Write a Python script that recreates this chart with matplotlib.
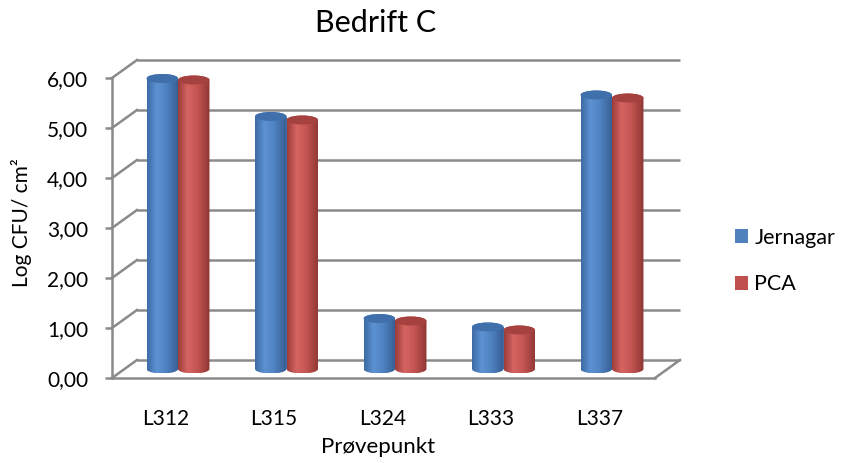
import numpy as np
import matplotlib
matplotlib.use("Agg")
import matplotlib.pyplot as plt
from matplotlib.path import Path
from matplotlib.patches import Ellipse
from matplotlib.colors import LinearSegmentedColormap

# ---------------- data ----------------
categories = ["L312", "L315", "L324", "L333", "L337"]
jernagar = [5.81, 5.05, 1.01, 0.84, 5.48]
pca = [5.78, 4.98, 0.96, 0.78, 5.42]
series_names = ["Jernagar", "PCA"]
yticks = [0, 1, 2, 3, 4, 5, 6]
title = "Bedrift C"
xlabel = "Prøvepunkt"
ylabel = "Log CFU/ cm²"

# ---------------- style ----------------
plt.rcParams['font.family'] = ['Lato', 'DejaVu Sans']
FS = 15          # digit-heavy labels
FS2 = 16         # word labels
W, H = 842, 463
fig = plt.figure(figsize=(W / 100, H / 100), dpi=100)

# pixel mapping for the axes (category unit = 108.5 px, value unit = 50 px)
x0px, xunit = 178.0, 108.5
y0px, yunit = 369.0, 50.0
left_px, right_px, top_px, bot_px = 90, 700, 45, 400
ax = fig.add_axes([left_px / W, 1 - bot_px / H, (right_px - left_px) / W, (bot_px - top_px) / H])
xlim = ((left_px - x0px) / xunit, (right_px - x0px) / xunit)
ylim = ((y0px - bot_px) / yunit, (y0px - top_px) / yunit)

dxo = 12.5 / xunit      # depth offset (x) from middle plane
dyo = 9.0 / yunit       # depth offset (y) from middle plane
back_left = (137 - x0px) / xunit
back_right = (680 - x0px) / xunit
front_left = back_left - 2 * dxo
front_right = back_right - 2 * dxo

grid_c = '#8a8a8a'
glw = 1.8

# back wall gridlines and side wall diagonals
for v in yticks:
    ax.plot([back_left, back_right], [v + dyo, v + dyo], color=grid_c, lw=glw, zorder=1,
            solid_capstyle='butt')
    ax.plot([front_left, back_left], [v - dyo, v + dyo], color=grid_c, lw=glw, zorder=1)
# floor right edge
ax.plot([front_right, back_right], [-dyo, dyo], color=grid_c, lw=glw, zorder=1)

# spines: front vertical axis and front floor edge
for s in ['top', 'right']:
    ax.spines[s].set_visible(False)
ax.spines['left'].set_position(('data', front_left))
ax.spines['left'].set_bounds(-dyo, yticks[-1] - dyo)
ax.spines['bottom'].set_position(('data', -dyo))
ax.spines['bottom'].set_bounds(front_left, front_right)
for s in ['left', 'bottom']:
    ax.spines[s].set_color(grid_c)
    ax.spines[s].set_linewidth(glw)

ax.set_yticks([v - dyo for v in yticks])
ax.set_yticklabels([f"{v:.2f}".replace('.', ',') for v in yticks], fontsize=FS)
ax.tick_params(axis='y', direction='out', length=5, width=glw, color=grid_c, pad=12)
idx = np.arange(len(categories))
ax.set_xticks(idx - dxo)
ax.set_xticklabels(categories, fontsize=FS)
ax.tick_params(axis='x', length=0, pad=22)

# ---------------- cylinders ----------------
bw = 0.29
b = 4.5 / yunit
blue_cmap = LinearSegmentedColormap.from_list('b', [(0, '#3d6ba5'), (0.3, '#5d92d3'),
                                                    (0.6, '#4f83c2'), (1, '#365d92')])
red_cmap = LinearSegmentedColormap.from_list('r', [(0, '#9c3d3a'), (0.3, '#d66562'),
                                                   (0.6, '#c45552'), (1, '#8f3734')])
specs = [(jernagar, -bw / 2, '#4F81BD', blue_cmap, '#4070ac', series_names[0]),
         (pca, bw / 2, '#C0504D', red_cmap, '#a5423f', series_names[1])]
grad = np.linspace(0, 1, 64).reshape(1, -1)
t_low = np.linspace(np.pi, 2 * np.pi, 40)
t_up = np.linspace(0, np.pi, 40)

handles = []
for vals, off, base, cmap, topc, name in specs:
    bars = ax.bar(idx + off, vals, width=bw, color=base, zorder=2, label=name)
    handles.append(bars)
    for cx, v in zip(idx + off, vals):
        a = bw / 2
        xs = np.concatenate([cx + a * np.cos(t_low), cx + a * np.cos(t_up)])
        ys = np.concatenate([b * np.sin(t_low), v + b * np.sin(t_up)])
        path = Path(np.column_stack([xs, ys]), closed=False)
        im = ax.imshow(grad, cmap=cmap, extent=[cx - a, cx + a, -b, v + b],
                       aspect='auto', interpolation='bilinear', zorder=3)
        im.set_clip_path(path, transform=ax.transData)
        ax.add_patch(Ellipse((cx, v), 2 * a, 2 * b, facecolor=topc, edgecolor='none', zorder=4))

ax.set_xlim(*xlim)
ax.set_ylim(*ylim)

# ---------------- texts ----------------
fig.text(376 / W, 1 - 23 / H, title, ha='center', va='center', fontsize=22)
fig.text(378 / W, 1 - 447 / H, xlabel, ha='center', va='center', fontsize=FS2)
fig.text(22 / W, 1 - 223 / H, ylabel, ha='center', va='center', rotation=90, fontsize=FS)

leg = fig.legend(handles=handles, labels=series_names, loc='center left',
                 bbox_to_anchor=(735 / W, 1 - 261 / H), frameon=False, fontsize=15.5,
                 borderpad=0, borderaxespad=0,
                 handlelength=0.6, handleheight=0.6, handletextpad=0.3, labelspacing=1.25)

fig.savefig('out.png', dpi=100)
